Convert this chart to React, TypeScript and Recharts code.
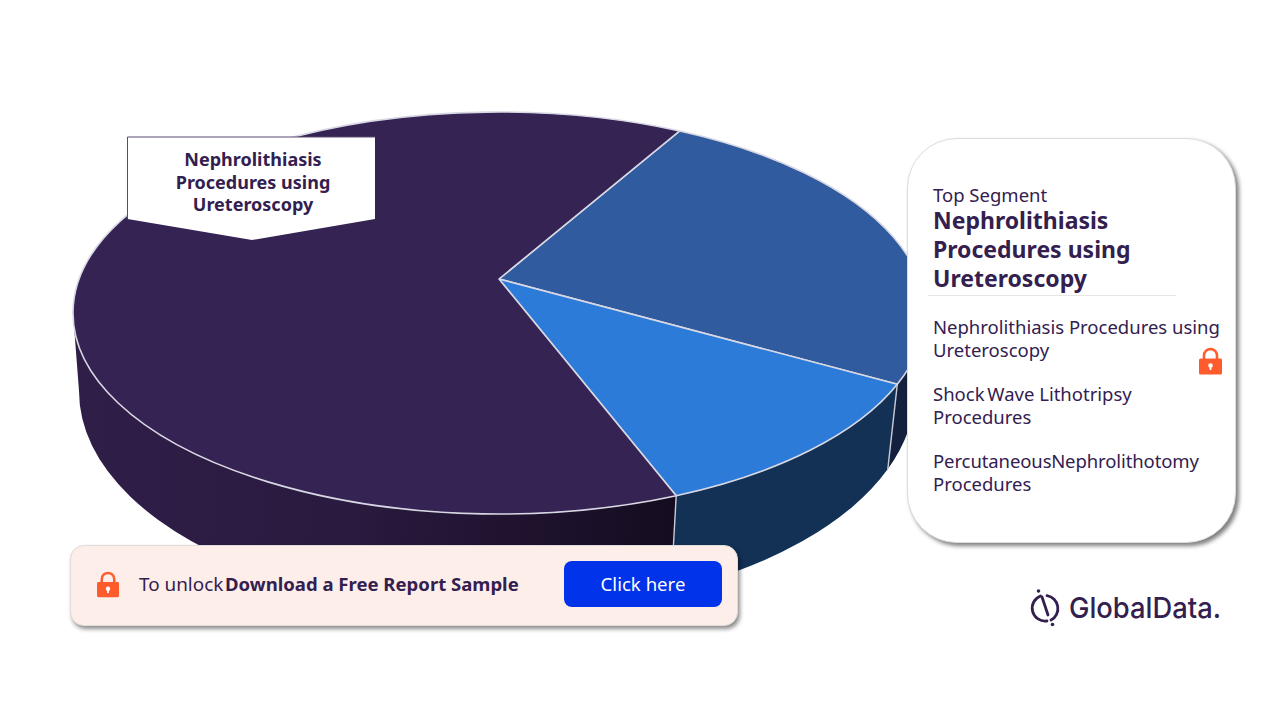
import React from "react";
import { PieChart, Pie } from "recharts";

const categories = [
  "Shock Wave Lithotripsy Procedures",
  "Percutaneous Nephrolithotomy Procedures",
  "Nephrolithiasis Procedures using Ureteroscopy",
];
const shares = [23.8, 12.4, 63.8];
const topColors = ["#305c9f", "#2c7bd8", "#352353"];
const wallColors = ["#13203e", "#123155", "url(#wallPurple)"];
const legendHeads = ["", "Shock Wave", "Percutaneous Nephrolithotomy"];
const legendItems = [
  ["Nephrolithiasis Procedures using", "Ureteroscopy"],
  [" Lithotripsy", "Procedures"],
  ["", "Procedures"],
];
const headGaps = [0, -2, -5];
const headTracking = [0, 0, -0.1];
const titleLines = ["Nephrolithiasis", "Procedures using", "Ureteroscopy"];

const tableData = categories.map((name, i) => ({
  name,
  value: shares[i],
  fill: topColors[i],
  wall: wallColors[i],
}));

const INK = "#33204f";
const FONT = "'Noto Sans', sans-serif";
const SQUASH = 201 / 426;
const CENTER_DROP = 34;
const BOTTOM_RX = 418 / 426;
const BOTTOM_RY = 220 / 426;
const BOTTOM_DROP = 112;
const BOTTOM_SHIFT = -2;

const rad = (d: number) => (d * Math.PI) / 180;

function topPoint(cx: number, cy: number, r: number, t: number) {
  return [cx + r * Math.sin(rad(t)), cy + CENTER_DROP - r * SQUASH * Math.cos(rad(t))];
}
function bottomPoint(cx: number, cy: number, r: number, t: number) {
  return [
    cx + BOTTOM_SHIFT + r * BOTTOM_RX * Math.sin(rad(t)),
    cy + BOTTOM_DROP - r * BOTTOM_RY * Math.cos(rad(t)),
  ];
}

function TopSlice(props: any) {
  const { cx, cy, outerRadius: r, startAngle, endAngle, fill } = props;
  const t1 = 90 - startAngle;
  const t2 = 90 - endAngle;
  const a = topPoint(cx, cy, r, t1);
  const b = topPoint(cx, cy, r, t2);
  const large = t2 - t1 > 180 ? 1 : 0;
  const d = `M${cx} ${cy}L${a[0]} ${a[1]}A${r} ${r * SQUASH} 0 ${large} 1 ${b[0]} ${b[1]}Z`;
  return <path d={d} fill={fill} stroke="#d8d8e4" strokeWidth={1.6} strokeLinejoin="round" />;
}

function WallSlice(props: any) {
  const { cx, cy, outerRadius: r, startAngle, endAngle, payload } = props;
  const t1 = Math.max(90 - startAngle, 90);
  const t2 = Math.min(90 - endAngle, 270);
  if (t2 <= t1) return <g />;
  const a = topPoint(cx, cy, r, t1);
  const b = topPoint(cx, cy, r, t2);
  const c = bottomPoint(cx, cy, r, t2);
  const e = bottomPoint(cx, cy, r, t1);
  const d =
    `M${a[0]} ${a[1]}A${r} ${r * SQUASH} 0 0 1 ${b[0]} ${b[1]}` +
    `L${c[0]} ${c[1]}A${r * BOTTOM_RX} ${r * BOTTOM_RY} 0 0 0 ${e[0]} ${e[1]}Z`;
  const startsFront = 90 - startAngle >= 90;
  return (
    <g>
      <path d={d} fill={payload.wall} />
      {startsFront ? (
        <line x1={a[0]} y1={a[1]} x2={e[0]} y2={e[1]} stroke="#c9c9d6" strokeWidth={1.4} />
      ) : null}
    </g>
  );
}

function Lock({ x, y, w }: { x: number; y: number; w: number }) {
  return (
    <svg
      width={w}
      height={(w * 28) / 23}
      viewBox="0 0 23 28"
      style={{ position: "absolute", left: x, top: y }}
    >
      <path d="M5 13V8.5a6.5 6.5 0 0 1 13 0V13" fill="none" stroke="#ff5c2e" strokeWidth={2.6} />
      <rect x={0} y={11.5} width={23} height={16} rx={1.5} fill="#ff5c2e" />
      <circle cx={11.5} cy={18.5} r={2.3} fill="#fff" />
      <rect x={10.6} y={18.5} width={1.8} height={4.5} fill="#fff" />
    </svg>
  );
}

const abs = (x: number, y: number): React.CSSProperties => ({
  position: "absolute",
  left: x,
  top: y,
  whiteSpace: "pre",
});

export default function App() {
  return (
    <div
      style={{
        position: "absolute",
        left: 0,
        top: 0,
        width: 1281,
        height: 721,
        overflow: "hidden",
        background: "#fff",
        fontFamily: FONT,
        color: INK,
      }}
    >
      <div style={{ position: "absolute", left: 0, top: 0 }}>
        <PieChart width={1281} height={721} margin={{ top: 0, right: 0, bottom: 0, left: 0 }}>
          <defs>
            <linearGradient id="wallPurple" gradientUnits="userSpaceOnUse" x1={80} y1={0} x2={676} y2={0}>
              <stop offset="0%" stopColor="#2f1e48" />
              <stop offset="45%" stopColor="#2a1a3f" />
              <stop offset="100%" stopColor="#150c20" />
            </linearGradient>
          </defs>
          <Pie
            data={tableData}
            dataKey="value"
            nameKey="name"
            cx={499}
            cy={279}
            outerRadius={426}
            startAngle={64.9}
            endAngle={-295.1}
            stroke="none"
            isAnimationActive={false}
            shape={WallSlice}
          />
          <Pie
            data={tableData}
            dataKey="value"
            nameKey="name"
            cx={499}
            cy={279}
            outerRadius={426}
            startAngle={64.9}
            endAngle={-295.1}
            stroke="none"
            isAnimationActive={false}
            shape={TopSlice}
          />
        </PieChart>
      </div>

      {/* Callout on the top segment */}
      <svg width={1281} height={721} style={{ position: "absolute", left: 0, top: 0, pointerEvents: "none" }}>
        <polygon points="127.5,137 375,137 375,219 252,240 127.5,219" fill="#fff" />
        <polyline points="127.5,219 127.5,137 375,137" fill="none" stroke="#5a4a72" strokeWidth={1} />
      </svg>
      <div
        style={{
          position: "absolute",
          left: 127,
          top: 148,
          width: 252,
          textAlign: "center",
          fontSize: 18,
          fontWeight: 700,
          lineHeight: "22.5px",
        }}
      >
        {titleLines.map((l) => (
          <div key={l}>{l}</div>
        ))}
      </div>

      {/* Right panel */}
      <div
        style={{
          position: "absolute",
          left: 907,
          top: 138,
          width: 329,
          height: 405,
          boxSizing: "border-box",
          background: "#fff",
          border: "1px solid #dcdcdc",
          borderRadius: 50,
          boxShadow: "3px 3px 4px rgba(0,0,0,0.5)",
        }}
      />
      <div style={{ ...abs(933, 185), fontSize: 18.5, lineHeight: "20px" }}>Top Segment</div>
      <div style={{ ...abs(933, 206), fontSize: 23, fontWeight: 700, lineHeight: "29px" }}>
        {titleLines.map((l) => (
          <div key={l}>{l}</div>
        ))}
      </div>
      <div style={{ position: "absolute", left: 928, top: 295, width: 248, height: 1, background: "#e6e6e6" }} />
      {legendItems.map((lines, i) => (
        <div key={i} style={{ ...abs(933, 314.5 + i * 67), fontSize: 18.5, lineHeight: "23px" }}>
          {lines.map((l, j) => (
            <div key={j}>
              {j === 0 && legendHeads[i] ? (
                <span style={{ wordSpacing: headGaps[i], letterSpacing: headTracking[i] }}>{legendHeads[i]}</span>
              ) : null}
              {l}
            </div>
          ))}
        </div>
      ))}
      <Lock x={1199} y={347} w={23} />

      {/* Unlock banner */}
      <div
        style={{
          position: "absolute",
          left: 70,
          top: 545,
          width: 668,
          height: 81,
          boxSizing: "border-box",
          background: "#feeeea",
          border: "1px solid #e0dcda",
          borderRadius: 14,
          boxShadow: "2px 3px 4px rgba(0,0,0,0.45)",
        }}
      />
      <Lock x={97} y={571} w={22} />
      <div style={{ ...abs(139, 571), fontSize: 18.9, lineHeight: "26px" }}>To unlock</div>
      <div style={{ ...abs(225, 571), fontSize: 18.55, fontWeight: 700, lineHeight: "26px" }}>
        Download a Free Report Sample
      </div>
      <div
        style={{
          position: "absolute",
          left: 564,
          top: 561,
          width: 158,
          height: 46,
          borderRadius: 8,
          background: "#0033ea",
          color: "#fff",
          fontSize: 18.6,
          lineHeight: "46px",
          textAlign: "center",
        }}
      >
        Click here
      </div>

      {/* Logo */}
      <svg width={210} height={50} viewBox="0 0 210 50" style={{ position: "absolute", left: 1020, top: 583 }}>
        <g fill="none" stroke="#33204f" strokeWidth={2.8} strokeLinecap="round">
          <path d="M 20.5 13 A 13 13 0 0 0 27 38" />
          <path d="M 27 12.7 A 13 13 0 0 1 31 37" />
          <path d="M 22 14 L 28 32" />
        </g>
        <circle cx={18.5} cy={8} r={1.8} fill="#33204f" />
        <circle cx={32.5} cy={41.5} r={1.8} fill="#33204f" />
        <text x={49} y={35} fontFamily="Inter, sans-serif" fontWeight={500} fontSize={29} fill="#33204f" textLength={152} lengthAdjust="spacingAndGlyphs">
          GlobalData.
        </text>
      </svg>
    </div>
  );
}
